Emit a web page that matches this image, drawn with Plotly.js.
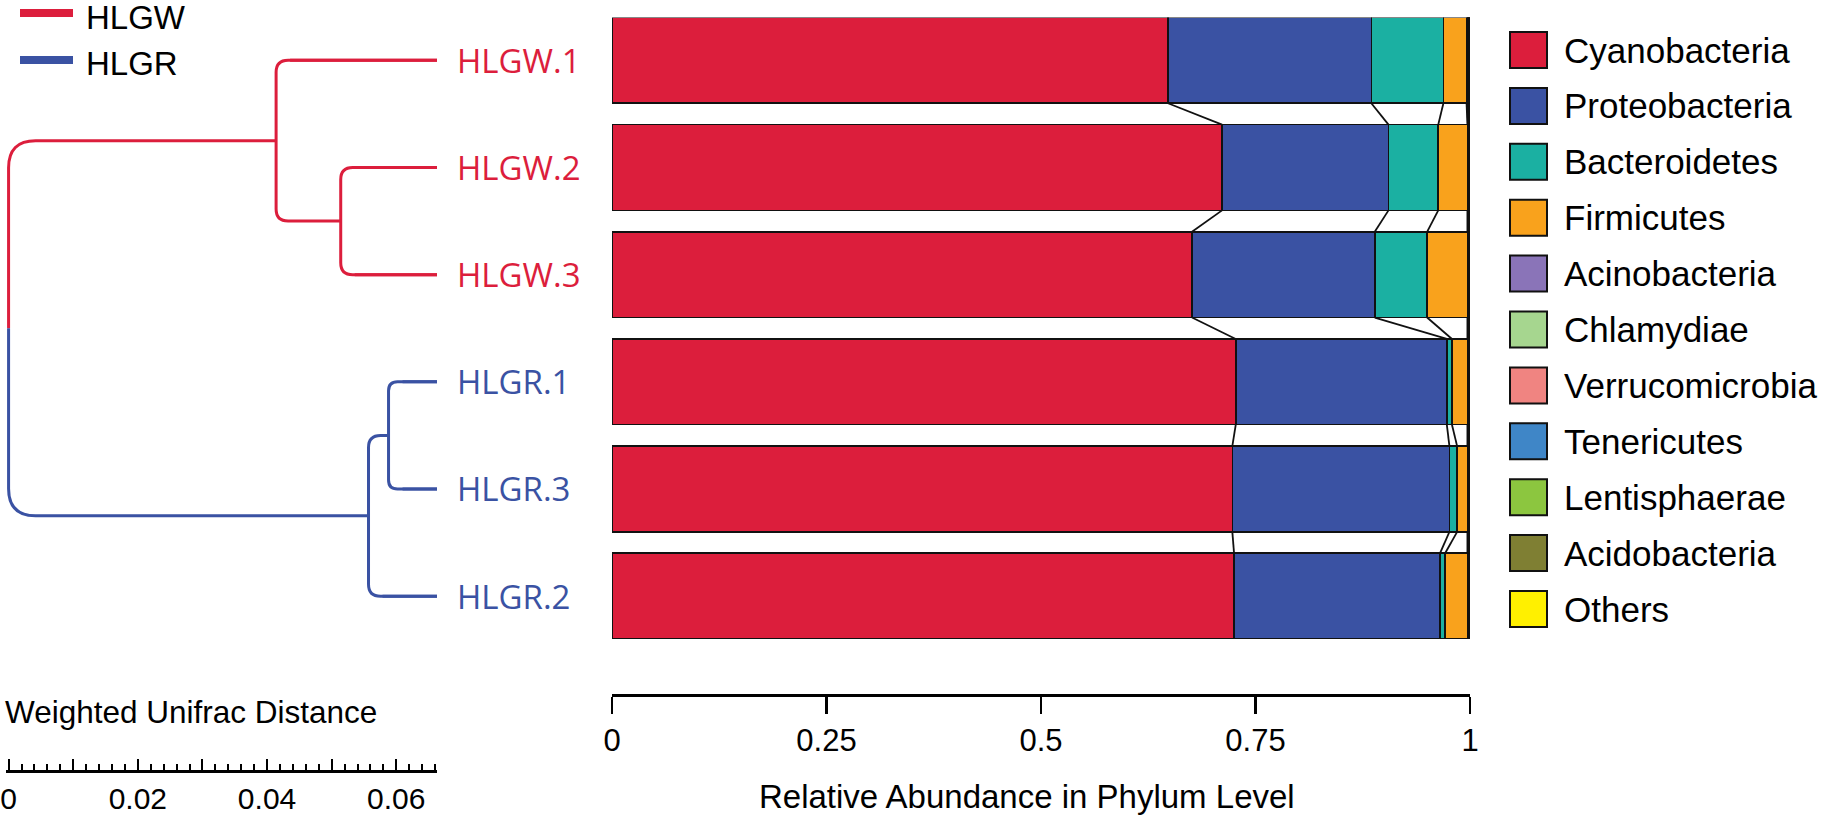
<!DOCTYPE html>
<html><head><meta charset="utf-8">
<script src="https://cdn.plot.ly/plotly-3.0.1.min.js"></script>
<style>html,body{margin:0;padding:0;background:#fff;}#chart{width:1826px;height:819px;}</style>
</head><body><div id="chart"></div>
<script>
// ---------------- data ----------------
const samples = ['HLGW.1','HLGW.2','HLGW.3','HLGR.1','HLGR.3','HLGR.2'];
const sampleGroup = ['HLGW','HLGW','HLGW','HLGR','HLGR','HLGR'];
const phyla = ['Cyanobacteria','Proteobacteria','Bacteroidetes','Firmicutes','Acinobacteria','Chlamydiae','Verrucomicrobia','Tenericutes','Lentisphaerae','Acidobacteria','Others'];
const cyanobacteria   = [0.648,0.711,0.676,0.727,0.723,0.725];
const proteobacteria  = [0.237,0.194,0.213,0.246,0.253,0.240];
const bacteroidetes   = [0.084,0.058,0.061,0.006,0.009,0.006];
const firmicutes      = [0.027,0.034,0.047,0.018,0.012,0.026];
const acinobacteria   = [0.0010,0.0006,0.0006,0.0006,0.0006,0.0006];
const chlamydiae      = [0.0005,0.0004,0.0004,0.0004,0.0004,0.0004];
const verrucomicrobia = [0.0005,0.0004,0.0004,0.0004,0.0004,0.0004];
const tenericutes     = [0.0005,0.0004,0.0004,0.0004,0.0004,0.0004];
const lentisphaerae   = [0.0005,0.0004,0.0004,0.0004,0.0004,0.0004];
const acidobacteria   = [0.0005,0.0004,0.0004,0.0004,0.0004,0.0004];
const others          = [0.0005,0.0004,0.0004,0.0004,0.0004,0.0004];
const abundanceTicks = [0,0.25,0.5,0.75,1];
const abundanceTickText = ['0','0.25','0.5','0.75','1'];

// dendrogram (weighted UniFrac clustering), heights above the leaves
const nodeIds    = ['nW23','nW','nR13','nR','root'];
const nodeTop    = ['HLGW.2','HLGW.1','HLGR.1','nR13','nW'];
const nodeBottom = ['HLGW.3','nW23','HLGR.3','HLGR.2','nR'];
const nodeHeight = [0.0149,0.0249,0.0075,0.0106,0.0663];
const nodeGroup  = ['HLGW','HLGW','HLGR','HLGR','root'];
const distTicks = [0,0.01,0.02,0.03,0.04,0.05,0.06];
const distTickText = ['0','','0.02','','0.04','','0.06'];

// ---------------- style ----------------
const W = 1826, H = 819;
const seriesValues = [cyanobacteria,proteobacteria,bacteroidetes,firmicutes,acinobacteria,chlamydiae,verrucomicrobia,tenericutes,lentisphaerae,acidobacteria,others];
const colors = ['#DC1E3C','#3A52A3','#1BB0A2','#F9A21C','#8A74B8','#A6D68F','#F08481','#3F86C7','#8CC63F','#7F7F33','#FFF000'];
const groupColor = {HLGW:'#DC1E3C', HLGR:'#3A52A3'};
const SANS = 'Liberation Sans, Arial, sans-serif';
const LAB = 'Open Sans, Noto Sans, sans-serif';
const fx = px => px / W;
const fy = py => 1 - py / H;

// layout geometry (px)
const barX0 = 612, barX1 = 1470, barTop = 17.5, barBot = 639;
const denX0 = 6, denX1 = 437, denPad = 0.00040;
const rootH = Math.max(...nodeHeight);
const pxPerY = (barBot - barTop) / 5.8;
const pxPerX = (denX1 - denX0) / (rootH + denPad);

const traces = [];
phyla.forEach((p, k) => {
  traces.push({
    type:'bar', orientation:'h', name:p,
    x: seriesValues[k], y: samples.map((s,i)=>i),
    xaxis:'x', yaxis:'y',
    marker:{color:colors[k], line:{color:'#111', width:1.6}},
    showlegend:false, hoverinfo:'skip'
  });
});

// connectors between adjacent bars at each cumulative boundary
const cum = samples.map((s,i)=>{ let c=0; return seriesValues.map(v=>{c+=v[i]; return c;}); });
const cx = [], cy = [];
for (let i=0;i<samples.length-1;i++){
  for (let k=0;k<phyla.length-1;k++){
    cx.push(cum[i][k], cum[i+1][k], null);
    cy.push(i+0.4, i+0.6, null);
  }
}
traces.push({type:'scatter', mode:'lines', x:cx, y:cy, xaxis:'x', yaxis:'y',
  line:{color:'#111', width:1.8}, showlegend:false, hoverinfo:'skip'});

// dendrogram positions
const pos = {};
samples.forEach((s,i)=>{ pos[s] = {x: rootH, y: i}; });
nodeIds.forEach((id,n)=>{
  const a = pos[nodeTop[n]], b = pos[nodeBottom[n]];
  pos[id] = {x: rootH - nodeHeight[n], y: (a.y + b.y)/2};
});

// leaf branches as traces
['HLGW','HLGR'].forEach(g=>{
  const lx=[], ly=[];
  samples.forEach((s,i)=>{
    if (sampleGroup[i]!==g) return;
    const n = nodeIds.findIndex((id,j)=>nodeTop[j]===s||nodeBottom[j]===s);
    lx.push(pos[nodeIds[n]].x + 14/pxPerX, pos[s].x, null);
    ly.push(i, i, null);
  });
  traces.push({type:'scatter', mode:'lines', x:lx, y:ly, xaxis:'x2', yaxis:'y',
    line:{color:groupColor[g], width:3}, showlegend:false, hoverinfo:'skip'});
});

const shapes = [];
const radius = {nW23:12, nW:12, nR13:9, nR:12, root:27};
nodeIds.forEach((id,n)=>{
  const a = pos[nodeTop[n]], b = pos[nodeBottom[n]], c = pos[id];
  const rx = radius[id]/pxPerX, ry = radius[id]/pxPerY;
  const topArm = `M${a.x},${a.y} L${c.x+rx},${a.y} Q${c.x},${a.y} ${c.x},${a.y+ry}`;
  const botArm = `L${c.x},${b.y-ry} Q${c.x},${b.y} ${c.x+rx},${b.y} L${b.x},${b.y}`;
  if (nodeGroup[n]==='root'){
    shapes.push({type:'path', xref:'x2', yref:'y', path: topArm + ` L${c.x},${c.y}`,
      line:{color:groupColor.HLGW, width:3}});
    shapes.push({type:'path', xref:'x2', yref:'y', path: `M${c.x},${c.y} ` + botArm,
      line:{color:groupColor.HLGR, width:3}});
  } else {
    shapes.push({type:'path', xref:'x2', yref:'y', path: topArm + ' ' + botArm,
      line:{color:groupColor[nodeGroup[n]], width:3}});
  }
});

const annotations = [];
samples.forEach((s,i)=>{
  annotations.push({xref:'x2', yref:'y', x: pos[s].x, y: i, xshift: 18, xanchor:'left', yanchor:'middle',
    text: s, showarrow:false, font:{family:LAB, size:33, color:groupColor[sampleGroup[i]]}});
});

// group legend (top-left)
[['HLGW',13],['HLGR',60]].forEach(([g,py])=>{
  shapes.push({type:'line', xref:'paper', yref:'paper', x0:fx(20), x1:fx(73), y0:fy(py), y1:fy(py),
    line:{color:groupColor[g], width:8}});
  annotations.push({xref:'paper', yref:'paper', x:fx(84), y:fy(py+4), xanchor:'left', yanchor:'middle',
    text:g, showarrow:false, font:{family:SANS, size:33, color:'#000'}});
});

// phylum legend (right)
phyla.forEach((p,k)=>{
  const cyp = 50 + k*55.9;
  shapes.push({type:'rect', xref:'paper', yref:'paper', x0:fx(1510), x1:fx(1547), y0:fy(cyp-18), y1:fy(cyp+18),
    fillcolor:colors[k], line:{color:'#111', width:2}});
  annotations.push({xref:'paper', yref:'paper', x:fx(1562), y:fy(cyp), xanchor:'left', yanchor:'middle',
    text:p, showarrow:false, font:{family:SANS, size:35, color:'#000'}});
});

annotations.push({xref:'paper', yref:'paper', x:fx(1027), y:fy(796), xanchor:'center', yanchor:'middle',
  text:'Relative Abundance in Phylum Level', showarrow:false, font:{family:SANS, size:33, color:'#000'}});
annotations.push({xref:'paper', yref:'paper', x:fx(3), y:fy(712), xanchor:'left', yanchor:'middle',
  text:'Weighted Unifrac Distance', showarrow:false, font:{family:SANS, size:31.5, color:'#000'}});

const layout = {
  width:W, height:H, margin:{l:0,r:0,t:0,b:0,pad:0},
  paper_bgcolor:'#fff', plot_bgcolor:'rgba(0,0,0,0)',
  barmode:'stack', bargap:0.2, showlegend:false,
  xaxis:{domain:[fx(barX0), fx(barX1)], range:[0,1], anchor:'free', position: fy(695),
    showline:true, linecolor:'#000', linewidth:2.5, ticks:'outside', ticklen:17, tickwidth:2.5, tickcolor:'#000',
    tickmode:'array', tickvals:abundanceTicks, ticktext:abundanceTickText, ticklabeloverflow:'allow',
    tickfont:{family:SANS, size:31, color:'#000'}, showgrid:false, zeroline:false, fixedrange:true},
  yaxis:{domain:[fy(barBot), fy(barTop)], range:[5.4,-0.4], showticklabels:false, showgrid:false,
    zeroline:false, showline:false, ticks:'', fixedrange:true},
  xaxis2:{domain:[fx(denX0), fx(denX1)], range:[-denPad, rootH], anchor:'free', position: fy(771),
    showline:true, linecolor:'#000', linewidth:2.5, ticks:'inside', ticklen:11, tickwidth:2, tickcolor:'#000',
    tickmode:'array', tickvals:distTicks, ticktext:distTickText, ticklabeloverflow:'allow',
    minor:{tickmode:'linear', tick0:0, dtick:0.002, ticks:'inside', ticklen:6, tickwidth:2, tickcolor:'#000', showgrid:false},
    tickfont:{family:SANS, size:30, color:'#000'}, showgrid:false, zeroline:false, fixedrange:true},
  shapes: shapes,
  annotations: annotations
};
Plotly.newPlot('chart', traces, layout, {staticPlot:true, displayModeBar:false});
</script></body></html>
